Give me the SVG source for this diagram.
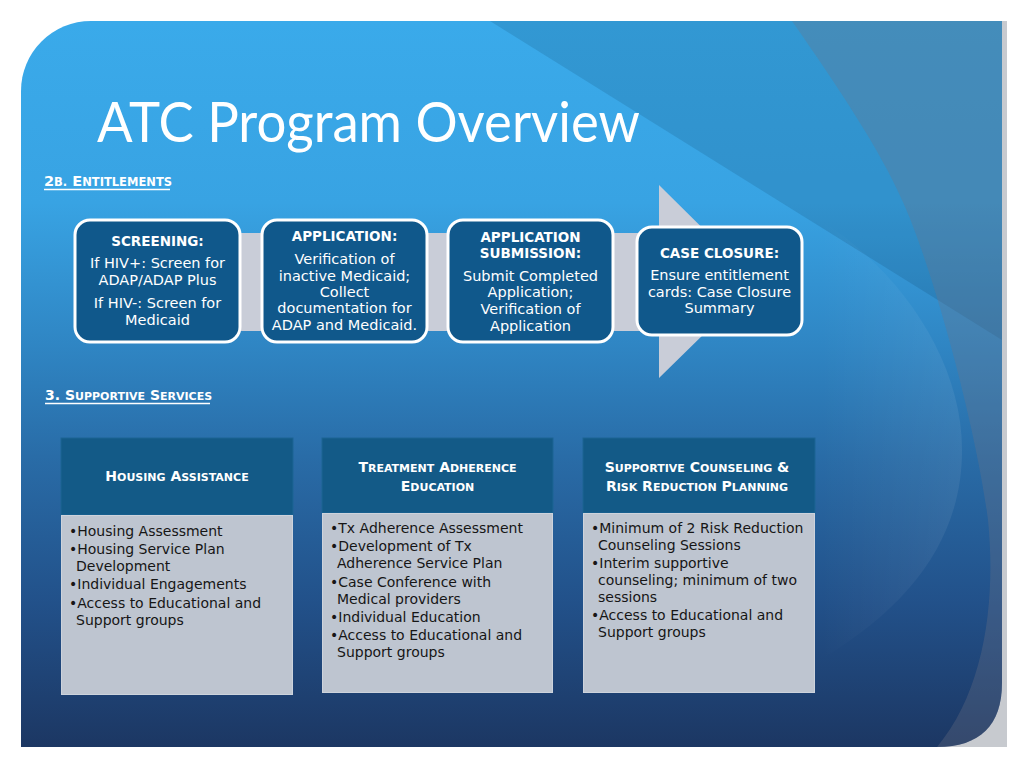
<svg xmlns="http://www.w3.org/2000/svg" width="1024" height="768" viewBox="0 0 1024 768">
  <defs>
    <linearGradient id="bg" gradientUnits="userSpaceOnUse" x1="0" y1="21" x2="0" y2="747">
      <stop offset="0" stop-color="#3AAAEA"/>
      <stop offset="0.25" stop-color="#38A3E3"/>
      <stop offset="0.45" stop-color="#2F85C3"/>
      <stop offset="0.6" stop-color="#296CA7"/>
      <stop offset="0.8" stop-color="#22518A"/>
      <stop offset="1" stop-color="#1C3763"/>
    </linearGradient>
    <linearGradient id="lobe" gradientUnits="userSpaceOnUse" x1="820" y1="0" x2="962" y2="0">
      <stop offset="0" stop-color="#FFFFFF" stop-opacity="0"/>
      <stop offset="1" stop-color="#FFFFFF" stop-opacity="0.07"/>
    </linearGradient>
    <clipPath id="panelClip">
      <path d="M21,91 A70,70 0 0 1 91,21 H1002 V683 C1002,725 980,747 937,747 H21 Z"/>
    </clipPath>
    <style>
      .sec{font-family:"DejaVu Sans",sans-serif;font-weight:bold;fill:#FFFFFF}
      .big{font-size:14px}
      .sm{font-size:11px}
      .big2{font-size:14.5px}
      .sm2{font-size:11.5px}
      .pbox{fill:#10588B;stroke:#FFFFFF;stroke-width:3}
      .ptitle{font-family:"DejaVu Sans",sans-serif;font-weight:bold;font-size:13.5px;fill:#FFFFFF;text-anchor:middle}
      .ptext{font-family:"DejaVu Sans",sans-serif;font-size:14.5px;fill:#FFFFFF;text-anchor:middle}
      .hdr{fill:#135A87;stroke:#1D6594;stroke-width:1}
      .body{fill:#BEC5D0;stroke:#CDD3DC;stroke-width:1}
      .htext{font-family:"DejaVu Sans",sans-serif;font-weight:bold;fill:#FFFFFF;text-anchor:middle}
      .hb{font-size:14px}
      .hs{font-size:11px}
      .btext{font-family:"DejaVu Sans",sans-serif;font-size:14px;fill:#161616}
    </style>
  </defs>

  <!-- page background -->
  <rect x="0" y="0" width="1024" height="768" fill="#FFFFFF"/>
  <rect x="1000" y="21" width="7" height="726" fill="#C7CACF"/>
  <rect x="920" y="670" width="87" height="77" fill="#C7CACF"/>

  <!-- panel -->
  <g id="panel">
    <path d="M21,91 A70,70 0 0 1 91,21 H1002 V683 C1002,725 980,747 937,747 H21 Z" fill="url(#bg)"/>
    <g clip-path="url(#panelClip)">
      <polygon points="490,21 1002,21 1002,340" fill="#0A2A48" opacity="0.14"/>
      <path d="M820,220 C900,270 962,360 962,450 C962,530 920,600 820,660 Z" fill="url(#lobe)"/>
      <path d="M792,21 C840,90 880,150 902,200 C930,260 975,420 988,520 C996,600 985,690 937,747 L1002,747 L1002,21 Z" fill="#6F7586" opacity="0.3"/>
    </g>
  </g>

  <!-- title -->
  <g id="title">
    <text x="97" y="142" font-family="Lato, 'Open Sans', sans-serif" font-size="56" fill="#FFFFFF" textLength="543" lengthAdjust="spacingAndGlyphs">ATC Program Overview</text>
  </g>

  <!-- section label 2B -->
  <g id="label-entitlements">
    <text class="sec" x="44" y="186"><tspan class="big2">2</tspan><tspan class="sm2">B.</tspan><tspan class="big2"> E</tspan><tspan class="sm2">NTITLEMENTS</tspan></text>
    <line x1="44" y1="189.5" x2="170" y2="189.5" stroke="#FFFFFF" stroke-width="1.3"/>
  </g>

  <!-- process arrow (connector) -->
  <g id="connectors">
    <polygon points="75,233 659,233 659,185 757,282 659,378 659,331 75,331" fill="#C9CDD8"/>
  </g>

  <g id="node-screening">
    <rect class="pbox" x="75" y="220" width="165" height="122" rx="15"/>
    <text class="ptitle" x="157.5" y="246">SCREENING:</text>
    <text class="ptext" x="157.5" y="268">If HIV+: Screen for</text>
    <text class="ptext" x="157.5" y="285">ADAP/ADAP Plus</text>
    <text class="ptext" x="157.5" y="308">If HIV-: Screen for</text>
    <text class="ptext" x="157.5" y="325">Medicaid</text>
  </g>

  <g id="node-application">
    <rect class="pbox" x="262" y="220" width="165" height="122" rx="15"/>
    <text class="ptitle" x="344.5" y="241">APPLICATION:</text>
    <text class="ptext" x="344.5" y="264">Verification of</text>
    <text class="ptext" x="344.5" y="281">inactive Medicaid;</text>
    <text class="ptext" x="344.5" y="297">Collect</text>
    <text class="ptext" x="344.5" y="313">documentation for</text>
    <text class="ptext" x="344.5" y="330">ADAP and Medicaid.</text>
  </g>

  <g id="node-submission">
    <rect class="pbox" x="448" y="220" width="165" height="122" rx="15"/>
    <text class="ptitle" x="530.5" y="242">APPLICATION</text>
    <text class="ptitle" x="530.5" y="258">SUBMISSION:</text>
    <text class="ptext" x="530.5" y="281">Submit Completed</text>
    <text class="ptext" x="530.5" y="297">Application;</text>
    <text class="ptext" x="530.5" y="314">Verification of</text>
    <text class="ptext" x="530.5" y="331">Application</text>
  </g>

  <g id="node-closure">
    <rect class="pbox" x="637" y="227" width="165" height="108" rx="15"/>
    <text class="ptitle" x="719.5" y="258">CASE CLOSURE:</text>
    <text class="ptext" x="719.5" y="280">Ensure entitlement</text>
    <text class="ptext" x="719.5" y="297">cards: Case Closure</text>
    <text class="ptext" x="719.5" y="313">Summary</text>
  </g>

  <!-- section label 3 -->
  <g id="label-supportive">
    <text class="sec" x="45" y="400"><tspan class="big">3. S</tspan><tspan class="sm">UPPORTIVE</tspan><tspan class="big"> S</tspan><tspan class="sm">ERVICES</tspan></text>
    <line x1="45" y1="403.5" x2="210" y2="403.5" stroke="#FFFFFF" stroke-width="1.3"/>
  </g>

  <g id="node-housing">
    <rect class="hdr" x="61" y="438" width="232" height="77"/>
    <text class="htext" x="177" y="481"><tspan class="hb">H</tspan><tspan class="hs">OUSING</tspan><tspan class="hb"> A</tspan><tspan class="hs">SSISTANCE</tspan></text>
    <rect class="body" x="61.5" y="515.5" width="231" height="179"/>
    <text class="btext" x="69" y="536">•Housing Assessment</text>
    <text class="btext" x="69" y="554">•Housing Service Plan</text>
    <text class="btext" x="76" y="571">Development</text>
    <text class="btext" x="69" y="589">•Individual Engagements</text>
    <text class="btext" x="69" y="608">•Access to Educational and</text>
    <text class="btext" x="76" y="625">Support groups</text>
  </g>

  <g id="node-treatment">
    <rect class="hdr" x="322" y="438" width="231" height="75"/>
    <text class="htext" x="437.5" y="472"><tspan class="hb">T</tspan><tspan class="hs">REATMENT</tspan><tspan class="hb"> A</tspan><tspan class="hs">DHERENCE</tspan></text>
    <text class="htext" x="437.5" y="491"><tspan class="hb">E</tspan><tspan class="hs">DUCATION</tspan></text>
    <rect class="body" x="322.5" y="513.5" width="230" height="179"/>
    <text class="btext" x="330" y="533">•Tx Adherence Assessment</text>
    <text class="btext" x="330" y="551">•Development of Tx</text>
    <text class="btext" x="337" y="568">Adherence Service Plan</text>
    <text class="btext" x="330" y="587">•Case Conference with</text>
    <text class="btext" x="337" y="604">Medical providers</text>
    <text class="btext" x="330" y="622">•Individual Education</text>
    <text class="btext" x="330" y="640">•Access to Educational and</text>
    <text class="btext" x="337" y="657">Support groups</text>
  </g>

  <g id="node-counseling">
    <rect class="hdr" x="583" y="438" width="232" height="75"/>
    <text class="htext" x="697" y="472"><tspan class="hb">S</tspan><tspan class="hs">UPPORTIVE</tspan><tspan class="hb"> C</tspan><tspan class="hs">OUNSELING</tspan><tspan class="hb"> &amp;</tspan></text>
    <text class="htext" x="697" y="491"><tspan class="hb">R</tspan><tspan class="hs">ISK</tspan><tspan class="hb"> R</tspan><tspan class="hs">EDUCTION</tspan><tspan class="hb"> P</tspan><tspan class="hs">LANNING</tspan></text>
    <rect class="body" x="583.5" y="513.5" width="231" height="179"/>
    <text class="btext" x="591" y="533">•Minimum of 2 Risk Reduction</text>
    <text class="btext" x="598" y="550">Counseling Sessions</text>
    <text class="btext" x="591" y="568">•Interim supportive</text>
    <text class="btext" x="598" y="585">counseling; minimum of two</text>
    <text class="btext" x="598" y="602">sessions</text>
    <text class="btext" x="591" y="620">•Access to Educational and</text>
    <text class="btext" x="598" y="637">Support groups</text>
  </g>
</svg>
